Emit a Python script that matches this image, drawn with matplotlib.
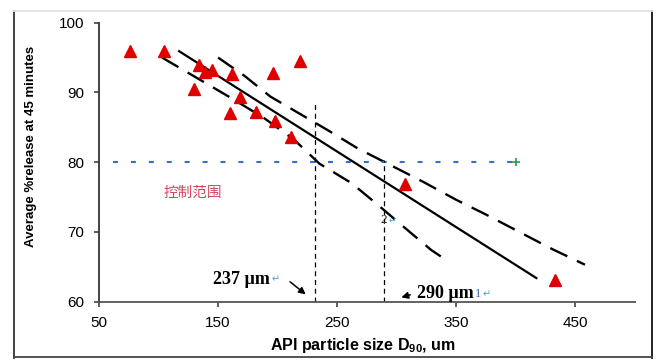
"""Dissolution vs API particle size with prediction band"""

import matplotlib
matplotlib.use('Agg')
import matplotlib.pyplot as plt
from matplotlib.lines import Line2D

plt.rcParams['font.family'] = ['Liberation Sans', 'DejaVu Sans']
plt.rcParams['mathtext.fontset'] = 'custom'
plt.rcParams['mathtext.bf'] = 'Liberation Sans:bold'
plt.rcParams['mathtext.rm'] = 'Liberation Sans'

# measured batches: D90 (um) vs average % release at 45 min
size_d90 = [76, 105, 134, 139, 145, 130, 162, 196, 219, 168, 160, 182, 198, 211, 307, 433]
release_45 = [96.0, 96.0, 94.0, 93.0, 93.2, 90.5, 92.6, 92.8, 94.5, 89.4, 87.0, 87.2, 85.9, 83.6, 76.9, 63.1]

# regression line and band
fit_x = [116.5, 418]
fit_y = [96.0, 63.3]
upper_x = [150, 172, 194, 218, 242, 267, 322, 350, 376, 404, 431, 458]
upper_y = [95.0, 92.4, 89.4, 87.0, 84.6, 82.0, 77.2, 74.6, 72.4, 69.9, 67.5, 65.3]
lower_x = [103, 132, 160, 188, 214, 235, 262, 284, 306, 329, 343]
lower_y = [95.0, 92.1, 89.3, 86.4, 83.2, 79.8, 77.0, 73.9, 70.7, 67.4, 65.8]

spec_limit = 80
spec_x = [62, 400]
cut_low = 231      # drawn position of the 237 um line
cut_low_top = 88.5
cut_high = 289
cut_high_top = 80.3

x_ticks = [50, 150, 250, 350, 450]
y_ticks = [60, 70, 80, 90, 100]

RETURN_BLUE = '#4aa0d8'


def return_mark(ax, anchor, size=7):
    """Small blue Word paragraph mark right after a text artist."""
    ax.annotate('↵', xy=(1, 0.5), xycoords=anchor, xytext=(1, 0),
                textcoords='offset points', va='center', ha='left',
                fontsize=size, color=RETURN_BLUE, family=['DejaVu Sans'])


fig = plt.figure(figsize=(6.67, 3.64), dpi=100)
ax = fig.add_axes([0.1484, 0.1712, 0.8036, 0.7664])

ax.plot(fit_x, fit_y, color='black', lw=1.6, solid_capstyle='butt')
ax.plot(upper_x, upper_y, color='black', lw=1.7, linestyle=(0, (8, 4.5)))
ax.plot(lower_x, lower_y, color='black', lw=1.7, linestyle=(0, (8, 4.5)))

ax.plot(spec_x, [spec_limit, spec_limit], color='#3d6cc0', lw=1.5,
        linestyle=(0, (2.4, 6.2)))
ax.plot([spec_x[1]], [spec_limit], marker='+', color='#2a9a5a', ms=6, mew=1.2)

ax.plot([cut_low, cut_low], [60, cut_low_top], color='black', lw=0.9,
        linestyle=(0, (4, 3)))
ax.plot([cut_high, cut_high], [60, cut_high_top], color='black', lw=0.9,
        linestyle=(0, (4, 3)))

ax.plot(size_d90, release_45, linestyle='none', marker='^', color='#e00000',
        ms=8, mec='#e00000', zorder=5)

ax.text(104, 75.6, '控制范围', color='#d9455f', fontsize=10.5, va='center',
        family=['Noto Sans CJK SC', 'DejaVu Sans'])

serif = ['Liberation Serif', 'DejaVu Sans']
t_low = ax.text(145.6, 63.2, '237 µm', fontsize=13, fontweight='bold',
                va='center', family=serif)
return_mark(ax, t_low)
ax.annotate('', xy=(225.4, 60.8), xytext=(208.6, 63.1),
            arrowprops=dict(arrowstyle='-|>', color='black', lw=1.1,
                            mutation_scale=10))

t_high = ax.text(317.4, 61.2, '290 µm', fontsize=13, fontweight='bold',
                 va='center', family=serif)
t_one = ax.annotate('1', xy=(1, 0.45), xycoords=t_high, xytext=(0.5, 0),
                    textcoords='offset points', va='center', ha='left',
                    fontsize=9, color='#3a6aa0', family=serif)
return_mark(ax, t_one)
ax.annotate('', xy=(301.6, 60.5), xytext=(313.6, 61.1),
            arrowprops=dict(arrowstyle='-|>', color='black', lw=1.1,
                            mutation_scale=10))

t_two = ax.text(286.0, 71.7, '2', fontsize=9.5, color='#222222', va='center',
                family=serif)
return_mark(ax, t_two, size=6.5)

ax.set_xlim(50, 500)
ax.set_ylim(60, 100)
ax.set_xticks(x_ticks)
ax.set_yticks(y_ticks)
ax.tick_params(axis='both', labelsize=11, width=1.1, length=3.5,
               color='#333333', pad=7)
ax.spines['top'].set_visible(False)
ax.spines['right'].set_visible(False)
ax.spines['left'].set_color('#333333')
ax.spines['bottom'].set_color('#555555')
ax.spines['left'].set_linewidth(1.3)
ax.spines['bottom'].set_linewidth(1.3)

ax.set_ylabel('Average %release at 45 minutes', fontsize=9.5,
              fontweight='bold')
ax.yaxis.set_label_coords(-0.116, 0.556)
ax.set_xlabel(r'API particle size D$_\mathbf{90}$, um', fontsize=11.5,
              fontweight='bold')
ax.xaxis.set_label_coords(0.493, -0.122)

# outer frame of the original picture
for (xs, ys, col) in [([0.021, 0.021], [0.0165, 0.9698], '#333333'),
                      ([0.978, 0.978], [0.0165, 0.9698], '#111111'),
                      ([0.021, 0.978], [0.0190, 0.0190], '#444444'),
                      ([0.021, 0.978], [0.9698, 0.9698], '#e2e2e2')]:
    fig.add_artist(Line2D(xs, ys, transform=fig.transFigure, color=col, lw=1.3))

fig.savefig('out.png', dpi=100)
